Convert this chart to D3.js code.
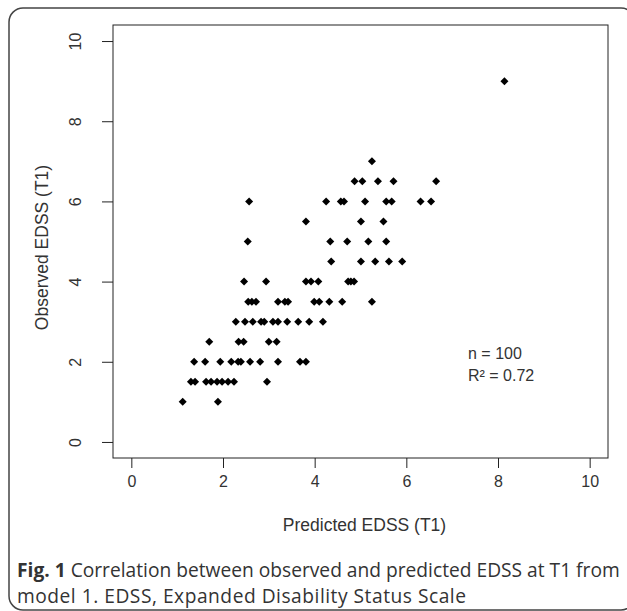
<!DOCTYPE html>
<html>
<head>
<meta charset="utf-8">
<script src="https://cdn.jsdelivr.net/npm/d3@7"></script>
<style>
  body { margin: 0; background: #fff; }
  .plot text { font-family: "Liberation Sans", Arial, sans-serif; }
  .caption text { font-family: "Open Sans", sans-serif; }
</style>
</head>
<body>
<svg id="chart" width="627" height="611"></svg>
<script>
// Predicted vs observed EDSS at T1 (one row per observed level)
const predicted = [
  1.12, 1.89,                                                      // 1
  1.30, 1.39, 1.63, 1.74, 1.87, 1.98, 2.11, 2.24, 2.96,            // 1.5
  1.37, 1.61, 1.94, 2.18, 2.33, 2.39, 2.59, 2.81, 3.20, 3.68, 3.81, // 2
  1.70, 2.34, 2.45, 3.00, 3.17,                                    // 2.5
  2.28, 2.48, 2.65, 2.83, 2.90, 3.09, 3.20, 3.40, 3.64, 3.88, 4.18, // 3
  2.55, 2.63, 2.72, 3.20, 3.35, 3.42, 3.99, 4.10, 4.32, 4.60, 5.25, // 3.5
  2.46, 2.94, 3.81, 3.92, 4.08, 4.73, 4.79, 4.86,                  // 4
  4.36, 5.01, 5.32, 5.62, 5.91,                                    // 4.5
  2.54, 4.34, 4.71, 5.17, 5.56,                                    // 5
  3.81, 5.01, 5.50,                                                // 5.5
  2.57, 4.25, 4.57, 4.64, 5.10, 5.56, 5.68, 6.31, 6.54,            // 6
  4.87, 5.04, 5.38, 5.72, 6.65,                                    // 6.5
  5.25,                                                            // 7
  8.14                                                             // 9
];
const observed = [
  1, 1,
  1.5, 1.5, 1.5, 1.5, 1.5, 1.5, 1.5, 1.5, 1.5,
  2, 2, 2, 2, 2, 2, 2, 2, 2, 2, 2,
  2.5, 2.5, 2.5, 2.5, 2.5,
  3, 3, 3, 3, 3, 3, 3, 3, 3, 3, 3,
  3.5, 3.5, 3.5, 3.5, 3.5, 3.5, 3.5, 3.5, 3.5, 3.5, 3.5,
  4, 4, 4, 4, 4, 4, 4, 4,
  4.5, 4.5, 4.5, 4.5, 4.5,
  5, 5, 5, 5, 5,
  5.5, 5.5, 5.5,
  6, 6, 6, 6, 6, 6, 6, 6, 6,
  6.5, 6.5, 6.5, 6.5, 6.5,
  7,
  9
];
const xTicks = [0, 2, 4, 6, 8, 10];
const yTicks = [0, 2, 4, 6, 8, 10];
const statLines = ["n = 100", "R\u00b2 = 0.72"];

const points = predicted.map((p, i) => ({ x: p, y: observed[i] }));

const svg = d3.select('#chart');

// outer figure frame
svg.append('rect')
  .attr('x', 9).attr('y', 8)
  .attr('width', 626).attr('height', 602)
  .attr('rx', 14)
  .attr('fill', 'none')
  .attr('stroke', '#444')
  .attr('stroke-width', 1.5);

const plot = svg.append('g').attr('class', 'plot');

// plot region (R style: limits padded 4%)
const box = { left: 113, right: 608, top: 25, bottom: 458 };
const x = d3.scaleLinear().domain([-0.4, 10.4]).range([box.left, box.right]);
const y = d3.scaleLinear().domain([-0.4, 10.4]).range([box.bottom, box.top]);

plot.append('rect')
  .attr('x', box.left).attr('y', box.top)
  .attr('width', box.right - box.left).attr('height', box.bottom - box.top)
  .attr('fill', 'none')
  .attr('stroke', '#222');

// x axis
const xAxis = plot.append('g')
  .attr('transform', `translate(0,${box.bottom})`)
  .call(d3.axisBottom(x).tickValues(xTicks).tickSize(10).tickPadding(8).tickFormat(d3.format('d')));
xAxis.select('.domain').remove();
xAxis.selectAll('line').attr('stroke', '#222');
xAxis.selectAll('text').attr('font-size', 16).attr('fill', '#333');

// y axis, labels parallel to the axis
const yAxis = plot.append('g')
  .attr('transform', `translate(${box.left},0)`)
  .call(d3.axisLeft(y).tickValues(yTicks).tickSize(11).tickFormat(d3.format('d')));
yAxis.select('.domain').remove();
yAxis.selectAll('line').attr('stroke', '#222');
yAxis.selectAll('text')
  .attr('font-size', 16).attr('fill', '#333')
  .attr('x', null).attr('dy', null)
  .attr('text-anchor', 'middle')
  .attr('transform', 'translate(-38,0) rotate(-90)')
  .attr('y', 6);

// axis titles
plot.append('text')
  .attr('x', (box.left + box.right) / 2 + 4).attr('y', 531)
  .attr('text-anchor', 'middle')
  .attr('font-size', 17.5).attr('fill', '#333')
  .text('Predicted EDSS (T1)');

plot.append('text')
  .attr('transform', `translate(48,${(box.top + box.bottom) / 2 + 6}) rotate(-90)`)
  .attr('text-anchor', 'middle')
  .attr('font-size', 17.5).attr('fill', '#333')
  .text('Observed EDSS (T1)');

// points: filled diamonds (pch 18)
const diamond = d3.symbol().type(d3.symbolSquare).size(32);
plot.append('g')
  .selectAll('path')
  .data(points)
  .join('path')
  .attr('d', diamond)
  .attr('transform', (d) => `translate(${x(d.x)},${y(d.y)}) rotate(45)`)
  .attr('fill', '#000');

// n and R² annotation
plot.append('g')
  .selectAll('text')
  .data(statLines)
  .join('text')
  .attr('x', 468)
  .attr('y', (d, i) => 359 + i * 22)
  .attr('font-size', 16).attr('fill', '#333')
  .text((d) => d);

// figure caption
const caption = svg.append('g').attr('class', 'caption');
const line1 = caption.append('text')
  .attr('x', 17).attr('y', 577)
  .attr('font-size', 19.2).attr('fill', '#333');
line1.append('tspan').attr('font-weight', 'bold').text('Fig. 1');
line1.append('tspan').text(' Correlation between observed and predicted EDSS at T1 from');

caption.append('text')
  .attr('x', 17).attr('y', 603)
  .attr('font-size', 19.2).attr('fill', '#333')
  .attr('textLength', 449).attr('lengthAdjust', 'spacing')
  .text('model 1. EDSS, Expanded Disability Status Scale');
</script>
</body>
</html>
